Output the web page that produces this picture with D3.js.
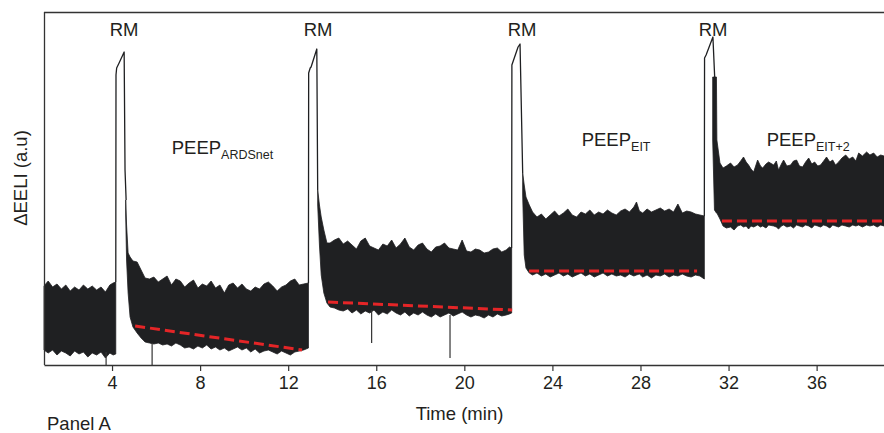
<!DOCTYPE html>
<html>
<head>
<meta charset="utf-8">
<script src="https://cdn.jsdelivr.net/npm/d3@7"></script>
<style>
  body { margin: 0; background: #fff; }
  svg { display: block; }
  text { font-family: "Liberation Sans", Arial, Helvetica, sans-serif; fill: #231f20; }
</style>
</head>
<body>
<svg id="chart" width="884" height="433"></svg>
<script>
// Time axis ticks (min)
const timeTicks = [4, 8, 12, 16, 20, 24, 28, 32, 36];

// Tidal EELI envelope per phase: [time (min), upper, lower] in a.u.
const bandBaseline = [
  [0.91, 79, 15], [1.1, 84, 12], [1.3, 78, 15], [1.5, 81, 10], [1.7, 76, 14],
  [1.9, 80, 12], [2.1, 74, 9], [2.3, 78, 14], [2.5, 75, 11], [2.7, 80, 13],
  [2.9, 76, 8], [3.1, 79, 12], [3.3, 75, 10], [3.5, 78, 13], [3.7, 73, 7],
  [3.9, 80, 12], [4.05, 82, 10], [4.17, 83, 11]
];

const bandArdsnet = [
  [4.62, 165, 150], [4.66, 140, 105], [4.73, 112, 72], [4.82, 108, 48], [4.95, 104, 38],
  [5.14, 103, 32], [5.32, 95, 27], [5.5, 87, 23], [5.7, 86, 22], [5.9, 88, 21],
  [6.1, 83, 22], [6.3, 86, 20], [6.5, 89, 21], [6.7, 80, 19], [6.9, 86, 22],
  [7.1, 84, 20], [7.3, 78, 17], [7.5, 82, 18], [7.7, 85, 16], [7.9, 77, 19],
  [8.1, 81, 17], [8.3, 79, 20], [8.5, 84, 16], [8.7, 77, 18], [8.9, 80, 15],
  [9.1, 72, 17], [9.3, 80, 14], [9.5, 82, 16], [9.7, 77, 18], [9.9, 81, 15],
  [10.1, 76, 17], [10.3, 74, 13], [10.5, 78, 16], [10.7, 76, 12], [10.9, 81, 14],
  [11.1, 83, 15], [11.3, 79, 13], [11.5, 74, 11], [11.7, 78, 14], [11.9, 80, 12],
  [12.1, 84, 10], [12.3, 86, 13], [12.5, 80, 14], [12.7, 81, 15], [12.92, 82, 17]
];

const bandTitration = [
  [13.34, 175, 160], [13.42, 160, 120], [13.5, 148, 90], [13.62, 135, 72], [13.76, 122, 62],
  [13.9, 122, 58], [14.1, 125, 57], [14.3, 127, 55], [14.5, 121, 54], [14.7, 124, 56],
  [14.9, 120, 52], [15.1, 116, 55], [15.3, 124, 51], [15.5, 127, 54], [15.7, 119, 52],
  [15.9, 117, 55], [16.1, 115, 50], [16.3, 121, 53], [16.5, 119, 51], [16.7, 125, 55],
  [16.9, 117, 52], [17.1, 121, 50], [17.3, 127, 53], [17.5, 118, 49], [17.7, 115, 52],
  [17.9, 120, 50], [18.1, 122, 53], [18.3, 116, 50], [18.5, 113, 48], [18.7, 118, 51],
  [18.9, 119, 48], [19.1, 122, 50], [19.3, 117, 52], [19.5, 116, 49], [19.7, 115, 51],
  [19.9, 125, 53], [20.1, 114, 50], [20.3, 113, 48], [20.5, 116, 50], [20.7, 115, 49],
  [20.9, 112, 47], [21.1, 113, 50], [21.3, 116, 48], [21.5, 117, 51], [21.7, 113, 49],
  [21.9, 115, 50], [22.05, 118, 51], [22.15, 117, 52]
];

const bandEit = [
  [22.65, 192, 170], [22.72, 180, 110], [22.8, 168, 97], [22.95, 160, 92], [23.1, 153, 90],
  [23.3, 148, 92], [23.5, 151, 89], [23.7, 146, 91], [23.9, 150, 88], [24.1, 154, 90],
  [24.3, 149, 92], [24.5, 152, 89], [24.7, 156, 91], [24.9, 150, 88], [25.1, 148, 90],
  [25.3, 153, 92], [25.5, 151, 89], [25.7, 155, 91], [25.9, 150, 88], [26.1, 153, 90],
  [26.3, 151, 92], [26.5, 155, 89], [26.7, 152, 91], [26.9, 150, 89], [27.1, 154, 90],
  [27.3, 156, 88], [27.5, 153, 91], [27.7, 158, 89], [27.82, 163, 90], [27.95, 154, 91],
  [28.1, 152, 88], [28.3, 156, 90], [28.5, 153, 87], [28.7, 155, 90], [28.9, 157, 89],
  [29.1, 154, 91], [29.3, 156, 88], [29.5, 153, 90], [29.7, 161, 89], [29.9, 152, 91],
  [30.1, 154, 89], [30.3, 153, 88], [30.5, 151, 90], [30.7, 150, 89], [30.9, 149, 86]
];

const bandEit2 = [
  [31.28, 288, 225], [31.36, 288, 155], [31.45, 288, 152], [31.47, 225, 152], [31.61, 202, 146],
  [31.75, 197, 139], [31.9, 199, 137], [32.09, 202, 138], [32.25, 198, 135], [32.41, 200, 139],
  [32.55, 204, 140], [32.68, 208, 138], [32.8, 203, 139], [32.91, 200, 136], [33.02, 196, 139],
  [33.14, 193, 138], [33.32, 205, 140], [33.45, 199, 138], [33.55, 197, 139], [33.7, 201, 137],
  [33.82, 203, 140], [34.05, 200, 139], [34.17, 204, 138], [34.27, 195, 136], [34.4, 201, 139],
  [34.5, 205, 140], [34.65, 199, 138], [34.82, 200, 139], [34.95, 204, 137], [35.09, 205, 140],
  [35.22, 199, 139], [35.36, 198, 138], [35.5, 203, 140], [35.64, 207, 139], [35.78, 201, 137],
  [35.91, 203, 140], [36.05, 199, 139], [36.18, 200, 138], [36.32, 204, 140], [36.45, 208, 139],
  [36.6, 203, 137], [36.73, 205, 140], [36.86, 200, 139], [37.0, 203, 138], [37.15, 207, 140],
  [37.32, 210, 139], [37.48, 206, 138], [37.64, 208, 140], [37.78, 204, 139], [37.91, 212, 140],
  [38.08, 209, 138], [38.27, 213, 140], [38.42, 210, 139], [38.59, 212, 140], [38.75, 208, 138],
  [38.91, 210, 140], [39.06, 209, 139]
];

// Recruitment manoeuvres: single trace [time, value]
const rm1 = [[4.17, 83], [4.18, 290], [4.21, 297], [4.32, 302], [4.55, 313], [4.59, 195], [4.64, 165]];
const rm2 = [[12.92, 82], [12.93, 292], [13.0, 297], [13.04, 298], [13.3, 316], [13.34, 175]];
const rm3 = [[22.15, 117], [22.16, 300], [22.44, 318], [22.53, 321], [22.65, 192]];
const rm4 = [[30.9, 149], [30.91, 307], [30.98, 310], [31.29, 328], [31.37, 288]];

// Isolated artefact spikes: [time, top, bottom]
const spikes = [[3.73, 13, 0], [5.82, 22, 0], [15.79, 55, 22], [19.35, 50, 7]];

// Trend of end-expiratory level per phase: [t0, v0, t1, v1]
const trends = [
  [5.05, 39, 12.63, 15],
  [13.81, 63, 22.17, 55],
  [22.94, 94, 30.57, 94],
  [31.7, 144, 39.06, 144]
];

// Annotations
const rmLabelTimes = [4.55, 13.36, 22.62, 31.3];
const phaseLabels = [
  { main: "PEEP", sub: "ARDSnet", t: 6.71, v: 211.5 },
  { main: "PEEP", sub: "EIT", t: 25.33, v: 219.5 },
  { main: "PEEP", sub: "EIT+2", t: 33.73, v: 219.5 }
];

const svg = d3.select("#chart");
const ink = "#1f2022";
const red = "#e42527";

const x = d3.scaleLinear().domain([0.91, 39.06]).range([44, 884]);
const y = d3.scaleLinear().domain([0, 353]).range([365, 12]);

const area = d3.area()
  .x(d => x(d[0]))
  .y0(d => y(d[2]))
  .y1(d => y(d[1]));

const band = svg.append("g");
[bandBaseline, bandArdsnet, bandTitration, bandEit, bandEit2].forEach(seg => {
  band.append("path")
    .attr("d", area(seg))
    .attr("fill", ink)
    .attr("stroke", ink)
    .attr("stroke-width", 0.8)
    .attr("stroke-linejoin", "round");
});

const line = d3.line().x(d => x(d[0])).y(d => y(d[1]));
[rm1, rm2, rm3, rm4].forEach(tr => {
  svg.append("path")
    .attr("d", line(tr))
    .attr("fill", "none")
    .attr("stroke", ink)
    .attr("stroke-width", 1.3)
    .attr("stroke-linejoin", "round");
});

svg.append("g").selectAll("line").data(spikes).join("line")
  .attr("x1", d => x(d[0])).attr("x2", d => x(d[0]))
  .attr("y1", d => y(d[1])).attr("y2", d => y(d[2]))
  .attr("stroke", "#333").attr("stroke-width", 1.2);

svg.append("g").selectAll("line").data(trends).join("line")
  .attr("x1", d => x(d[0])).attr("y1", d => y(d[1]))
  .attr("x2", d => x(d[2])).attr("y2", d => y(d[3]))
  .attr("stroke", red).attr("stroke-width", 3)
  .attr("stroke-dasharray", "10,5");

// Frame: left and top lines, bottom axis
const [x0, x1] = x.range();
const [yb, yt] = y.range();
svg.append("line").attr("x1", x0 + 0.5).attr("x2", x0 + 0.5).attr("y1", yt).attr("y2", yb)
  .attr("stroke", "#333").attr("stroke-width", 1.3);
svg.append("line").attr("x1", x0).attr("x2", x1).attr("y1", yt + 0.5).attr("y2", yt + 0.5)
  .attr("stroke", "#333").attr("stroke-width", 1.3);

const xAxis = svg.append("g")
  .attr("transform", `translate(0,${yb})`)
  .call(d3.axisBottom(x).tickValues(timeTicks).tickSize(6).tickPadding(5).tickSizeOuter(0));
xAxis.select(".domain").attr("stroke", "#333").attr("stroke-width", 1.3);
xAxis.selectAll(".tick line").attr("stroke", "#333").attr("stroke-width", 1.2);
xAxis.selectAll(".tick text")
  .style("font-family", '"Liberation Sans", Arial, sans-serif')
  .style("font-size", "18px")
  .attr("fill", "#231f20");

svg.append("text")
  .attr("x", 459.5).attr("y", 419.5)
  .attr("text-anchor", "middle")
  .style("font-size", "18.5px")
  .text("Time (min)");

svg.append("text")
  .attr("x", 47).attr("y", 430)
  .style("font-size", "18.5px")
  .text("Panel A");

svg.append("text")
  .attr("transform", "translate(27,178) rotate(-90)")
  .attr("text-anchor", "middle")
  .style("font-size", "18.5px")
  .text("ΔEELI (a.u)");

svg.append("g").selectAll("text").data(rmLabelTimes).join("text")
  .attr("x", d => x(d)).attr("y", 36)
  .attr("text-anchor", "middle")
  .style("font-size", "18.5px")
  .text("RM");

phaseLabels.forEach(p => {
  const t = svg.append("text")
    .attr("x", x(p.t)).attr("y", y(p.v))
    .style("font-size", "18.5px");
  t.append("tspan").text(p.main);
  t.append("tspan").attr("dy", 5).style("font-size", "12.5px").text(p.sub);
});
</script>
</body>
</html>
